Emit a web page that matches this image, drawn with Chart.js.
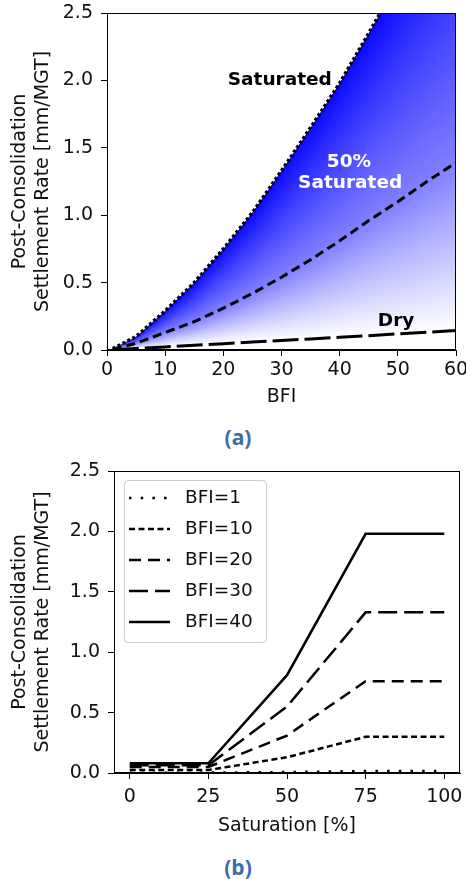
<!DOCTYPE html>
<html>
<head>
<meta charset="utf-8">
<script src="https://cdn.jsdelivr.net/npm/chart.js@4.4.0/dist/chart.umd.min.js"></script>
<style>
  body { margin: 0; background: #fff; width: 466px; height: 879px; position: relative; overflow: hidden; }
  canvas { position: absolute; left: 0; }
  #chartA { top: 0; }
  #chartB { top: 455px; }
  .cap { position: absolute; left: 0; width: 476px; text-align: center; line-height: 24px;
         font: 700 21px "Open Sans", sans-serif; color: #3c6ea8; }
</style>
</head>
<body>
<canvas id="chartA" width="466" height="415"></canvas>
<div class="cap" style="top:423px">(a)</div>
<canvas id="chartB" width="466" height="390"></canvas>
<div class="cap" style="top:853px">(b)</div>
<script>
// (a) settlement rate vs BFI
const bfiSat = [1, 5, 10, 15, 20, 25, 30, 35, 40, 45, 48];
const rateSat = [0.01, 0.1, 0.29, 0.5, 0.75, 1.02, 1.33, 1.65, 1.98, 2.35, 2.58];
const bfiCurve = [1, 5, 10, 15, 20, 25, 30, 35, 40, 45, 50, 55, 60];
const rateHalf = [0.005, 0.05, 0.13, 0.21, 0.31, 0.42, 0.54, 0.67, 0.81, 0.96, 1.1, 1.25, 1.39];
const rateDry = [0.002, 0.011, 0.023, 0.035, 0.047, 0.059, 0.07, 0.082, 0.094, 0.106, 0.12, 0.132, 0.145];
const bfiTicks = [0, 10, 20, 30, 40, 50, 60];

// labels inside (a)
const noteText = ['Saturated', '50%', 'Saturated', 'Dry'];
const noteX = [29.7, 41.6, 41.8, 49.7];
const noteY = [2.0, 1.39, 1.24, 0.215];
const noteColor = ['#000', '#fff', '#fff', '#000'];

// (b) settlement rate vs saturation
const satPct = [0, 25, 50, 75, 100];
const bfiLabels = ['BFI=1', 'BFI=10', 'BFI=20', 'BFI=30', 'BFI=40'];
const rateBfi1 = [0.003, 0.003, 0.008, 0.016, 0.016];
const rateBfi10 = [0.025, 0.025, 0.13, 0.3, 0.3];
const rateBfi20 = [0.05, 0.05, 0.31, 0.76, 0.76];
const rateBfi30 = [0.065, 0.065, 0.55, 1.33, 1.33];
const rateBfi40 = [0.08, 0.08, 0.81, 1.98, 1.98];
const satTicks = [0, 25, 50, 75, 100];

const yTitle = ['Post-Consolidation', 'Settlement Rate [mm/MGT]'];
const txt = '#111';
const font19 = { family: 'DejaVu Sans', size: 19 };

function pts(xs, ys) { return xs.map((x, i) => ({ x: x, y: ys[i] })); }

// y of a drawn line at pixel x (straight segments, extended past the ends)
function yAt(els, x) {
  let i = 1;
  while (i < els.length - 1 && els[i].x < x) i++;
  const a = els[i - 1], b = els[i];
  return a.y + (b.y - a.y) * (x - a.x) / (b.x - a.x);
}

const gradientFill = {
  id: 'gradientFill',
  beforeDatasetsDraw(chart) {
    const { ctx, chartArea: a } = chart;
    const sat = chart.getDatasetMeta(0).data;
    const half = chart.getDatasetMeta(1).data;
    const dry = chart.getDatasetMeta(2).data;
    ctx.save();
    ctx.beginPath();
    ctx.rect(a.left, a.top, a.right - a.left, a.bottom - a.top);
    ctx.clip();
    for (let x = Math.floor(sat[0].x); x < a.right; x++) {
      const cx = x + 0.5;
      const y0 = yAt(dry, cx), y1 = yAt(half, cx), y2 = yAt(sat, cx);
      if (y0 - y2 < 0.5) continue;
      const t = Math.min(Math.max((y0 - y1) / (y0 - y2), 0.01), 0.99);
      const g = ctx.createLinearGradient(0, y0, 0, y2);
      g.addColorStop(0, 'rgb(255,255,255)');
      g.addColorStop(t, 'rgb(128,128,255)');
      g.addColorStop(1, 'rgb(10,10,255)');
      ctx.fillStyle = g;
      ctx.fillRect(x, y2, 1, y0 - y2);
    }
    ctx.restore();
  }
};

const frame = {
  id: 'frame',
  afterDraw(chart) {
    const { ctx, chartArea: a } = chart;
    ctx.save();
    ctx.strokeStyle = '#000';
    ctx.lineWidth = 1;
    ctx.strokeRect(Math.round(a.left) + 0.5, Math.round(a.top) + 0.5,
      Math.round(a.right - a.left) - 1, Math.round(a.bottom - a.top) - 1);
    ctx.restore();
  }
};

const notes = {
  id: 'notes',
  afterDatasetsDraw(chart) {
    const { ctx, scales } = chart;
    ctx.save();
    ctx.font = 'bold 18.5px "DejaVu Sans"';
    ctx.textAlign = 'center';
    ctx.textBaseline = 'middle';
    noteText.forEach((t, i) => {
      ctx.fillStyle = noteColor[i];
      ctx.fillText(t, scales.x.getPixelForValue(noteX[i]), scales.y.getPixelForValue(noteY[i]));
    });
    ctx.restore();
  }
};

const boxLegend = {
  id: 'boxLegend',
  afterDatasetsDraw(chart) {
    const { ctx, chartArea: a } = chart;
    const x0 = a.left + 10, y0 = a.top + 9;
    ctx.save();
    ctx.fillStyle = 'rgba(255,255,255,0.8)';
    ctx.strokeStyle = '#cccccc';
    ctx.lineWidth = 1;
    ctx.beginPath();
    ctx.roundRect(x0 + 0.5, y0 + 0.5, 142, 162, 4);
    ctx.fill();
    ctx.stroke();
    ctx.font = '18.5px "DejaVu Sans"';
    ctx.textBaseline = 'middle';
    chart.data.datasets.forEach((ds, i) => {
      const y = y0 + 18 + i * 31;
      ctx.strokeStyle = ds.borderColor;
      ctx.lineWidth = ds.borderWidth;
      ctx.setLineDash(ds.borderDash || []);
      ctx.beginPath();
      ctx.moveTo(x0 + 5, y);
      ctx.lineTo(x0 + 46, y);
      ctx.stroke();
      ctx.setLineDash([]);
      ctx.fillStyle = txt;
      ctx.fillText(ds.label, x0 + 61, y);
    });
    ctx.restore();
  }
};

function line(label, data, dash, width) {
  return { label: label, data: data, borderColor: '#000', borderWidth: width, borderDash: dash,
           pointRadius: 0, fill: false, tension: 0 };
}

function xScale(min, max, ticks, title, h, pad, tpad) {
  return {
    type: 'linear', min: min, max: max,
    afterBuildTicks: s => { s.ticks = ticks.map(v => ({ value: v })); },
    ticks: { font: font19, color: txt, padding: pad, autoSkip: false, maxRotation: 0 },
    grid: { drawOnChartArea: false, tickLength: 6, color: '#000' },
    border: { color: '#000' },
    title: { display: true, text: title, font: font19, color: txt, padding: { top: 0, bottom: tpad } },
    afterFit: s => { s.height = h; s.paddingLeft = 0; s.paddingRight = 0; }
  };
}

function yScale(w) {
  return {
    min: 0, max: 2.5,
    ticks: { stepSize: 0.5, font: font19, color: txt, padding: 8, callback: v => v.toFixed(1) },
    grid: { drawOnChartArea: false, tickLength: 6, color: '#000' },
    border: { color: '#000' },
    title: { display: true, text: yTitle, font: font19, color: txt, padding: { top: 9, bottom: 0 } },
    afterFit: s => { s.width = w; s.paddingTop = 0; s.paddingBottom = 0; }
  };
}

new Chart(document.getElementById('chartA'), {
  type: 'line',
  data: {
    datasets: [
      line('Saturated', pts(bfiSat, rateSat), [3, 2.5], 3.5),
      line('50% Saturated', pts(bfiCurve, rateHalf), [9, 5], 3),
      line('Dry', pts(bfiCurve, rateDry), [26, 6], 3)
    ]
  },
  options: {
    responsive: false,
    animation: false,
    layout: { padding: { top: 13, right: 10, left: 0, bottom: 0 } },
    plugins: { legend: { display: false }, tooltip: { enabled: false } },
    scales: {
      x: xScale(0, 60, bfiTicks, 'BFI', 65, 3, 7),
      y: yScale(107)
    }
  },
  plugins: [gradientFill, notes, frame]
});

new Chart(document.getElementById('chartB'), {
  type: 'line',
  data: {
    datasets: [
      line(bfiLabels[0], pts(satPct, rateBfi1), [2.5, 9.2], 2.5),
      line(bfiLabels[1], pts(satPct, rateBfi10), [6, 3.5], 2.5),
      line(bfiLabels[2], pts(satPct, rateBfi20), [12, 7], 2.5),
      line(bfiLabels[3], pts(satPct, rateBfi30), [19, 7], 2.5),
      line(bfiLabels[4], pts(satPct, rateBfi40), [], 2.5)
    ]
  },
  options: {
    responsive: false,
    animation: false,
    layout: { padding: { top: 16, right: 6, left: 0, bottom: 0 } },
    plugins: { legend: { display: false }, tooltip: { enabled: false } },
    scales: {
      x: xScale(-5, 105, satTicks, 'Saturation [%]', 72, 7, 8),
      y: yScale(114)
    }
  },
  plugins: [boxLegend, frame]
});
</script>
</body>
</html>
